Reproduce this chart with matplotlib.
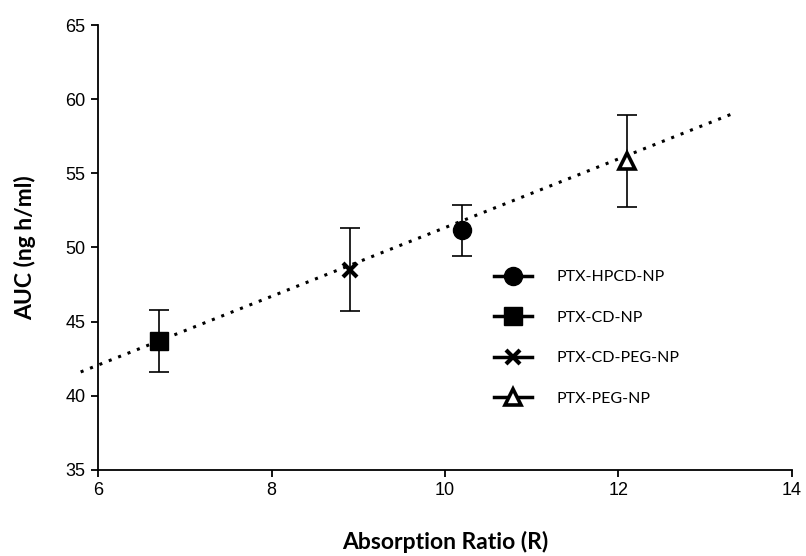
import numpy as np
import matplotlib.pyplot as plt
from matplotlib.lines import Line2D

# formulation data: absorption ratio vs AUC (mean +/- SD)
names = ['PTX-HPCD-NP', 'PTX-CD-NP', 'PTX-CD-PEG-NP', 'PTX-PEG-NP']
ratio = [10.2, 6.7, 8.9, 12.1]
auc = [51.15, 43.7, 48.5, 55.8]
auc_sd = [1.7, 2.1, 2.8, 3.1]

# trend line end points
fit_x = [5.8, 13.35]
fit_y = [41.6, 59.1]

marker_style = {
    'PTX-HPCD-NP':   dict(marker='o', ms=13, mfc='black', mec='black', mew=1.0),
    'PTX-CD-NP':     dict(marker='s', ms=13.5, mfc='black', mec='black', mew=1.0),
    'PTX-CD-PEG-NP': dict(marker='x', ms=10, mfc='black', mec='black', mew=3.0),
    'PTX-PEG-NP':    dict(marker='^', ms=11, mfc='white', mec='black', mew=2.6),
}

fig = plt.figure(figsize=(8.06, 5.56), dpi=100)
ax = fig.add_axes([0.1216, 0.155, 0.861, 0.80])

ax.plot(fit_x, fit_y, color='black', lw=2.2, linestyle=(0, (1.0, 2.3)),
        clip_on=False, zorder=2)

for n, x, y, e in zip(names, ratio, auc, auc_sd):
    ax.errorbar(x, y, yerr=e, fmt='none', ecolor='black', elinewidth=1.2,
                capsize=7, capthick=1.2, zorder=3)
    ax.plot(x, y, linestyle='none', zorder=4, **marker_style[n])

ax.set_xlim(6, 14)
ax.set_ylim(35, 65)
ax.set_xticks([6, 8, 10, 12, 14])
ax.set_yticks([35, 40, 45, 50, 55, 60, 65])

for s in ['top', 'right']:
    ax.spines[s].set_visible(False)
for s in ['left', 'bottom']:
    ax.spines[s].set_linewidth(1.3)
ax.tick_params(direction='out', length=5, width=1.3, labelsize=13, pad=4)
for lab in ax.get_xticklabels() + ax.get_yticklabels():
    lab.set_family('Liberation Sans')

ax.set_xlabel('Absorption Ratio (R)', family='Lato', fontweight='bold',
              fontsize=16.5, labelpad=23)
ax.set_ylabel('AUC (ng h/ml)', family='Lato', fontweight='bold',
              fontsize=16.5, labelpad=21)

handles = [Line2D([0], [0], color='black', lw=2.5, **marker_style[n]) for n in names]
leg = ax.legend(handles, names, loc='upper left', bbox_to_anchor=(0.55, 0.481),
                frameon=False, prop={'family': 'Lato', 'size': 11.5},
                handlelength=2.4, handletextpad=1.5, labelspacing=1.65)

fig.savefig('out.png', dpi=100)
